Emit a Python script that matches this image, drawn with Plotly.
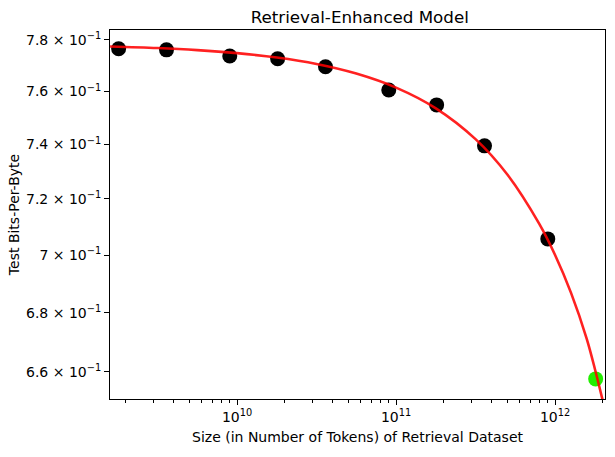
import plotly.graph_objects as go

# Data
tokens = [1.8e9, 3.6e9, 9.0e9, 1.8e10, 3.6e10, 9.0e10, 1.8e11, 3.6e11, 9.0e11]
bpb = [0.7765, 0.7761, 0.7737, 0.7726, 0.7695, 0.7606, 0.7549, 0.7395, 0.7057]
green_tokens = [1.8e12]
green_bpb = [0.6577]

# Fitted curve
fit_tokens = [1.59e9, 3.16e9, 5.62e9, 1e10, 1.78e10, 3.16e10, 5.62e10, 1e11,
              1.78e11, 3.16e11, 5.01e11, 7.94e11, 1e12, 1.26e12, 1.58e12, 1.8e12, 2.06e12]
fit_bpb = [0.7774, 0.7768, 0.7760, 0.7748, 0.7731, 0.7706, 0.7669, 0.7615,
           0.7536, 0.7420, 0.7289, 0.7111, 0.7000, 0.6868, 0.6712, 0.6600, 0.6475]

y_ticks = [0.66, 0.68, 0.70, 0.72, 0.74, 0.76, 0.78]
y_ticktext = ["6.6 × 10<sup>−1</sup>", "6.8 × 10<sup>−1</sup>", "7 × 10<sup>−1</sup>",
              "7.2 × 10<sup>−1</sup>", "7.4 × 10<sup>−1</sup>", "7.6 × 10<sup>−1</sup>",
              "7.8 × 10<sup>−1</sup>"]
x_ticks = [1e10, 1e11, 1e12]
x_ticktext = ["10<sup>10</sup>", "10<sup>11</sup>", "10<sup>12</sup>"]
x_minor = [m * 10 ** e for e in (9, 10, 11, 12) for m in range(2, 10)]

fig = go.Figure()
fig.add_trace(go.Scatter(x=tokens, y=bpb, mode="markers",
                         marker=dict(color="black", size=15), showlegend=False))
fig.add_trace(go.Scatter(x=green_tokens, y=green_bpb, mode="markers",
                         marker=dict(color="#22ee00", size=15), showlegend=False))
fig.add_trace(go.Scatter(x=fit_tokens, y=fit_bpb, mode="lines", line_shape="spline",
                         line=dict(color="rgba(255,0,0,0.87)", width=2.6), showlegend=False))

axis_common = dict(showline=True, linecolor="black", linewidth=1, mirror=True,
                   showgrid=False, zeroline=False, ticks="outside", ticklen=5,
                   tickcolor="black", tickfont=dict(size=14, color="black"))

fig.update_layout(
    width=615, height=457,
    margin=dict(l=110, r=10, t=30, b=58),
    paper_bgcolor="white", plot_bgcolor="white",
    font=dict(family="DejaVu Sans", color="black"),
    title=dict(text="Retrieval-Enhanced Model", x=0.585, xanchor="center",
               y=0.962, yanchor="middle", font=dict(size=16.7)),
    xaxis=dict(type="log", range=[9.201, 12.314], tickmode="array",
               tickvals=x_ticks, ticktext=x_ticktext,
               minor=dict(tickmode="array", tickvals=x_minor, ticks="outside",
                          ticklen=3, tickcolor="black"),
               title=dict(text="Size (in Number of Tokens) of Retrieval Dataset",
                          font=dict(size=14), standoff=8),
               **axis_common),
    yaxis=dict(type="log", range=[-0.18636, -0.10575], tickmode="array",
               tickvals=y_ticks, ticktext=y_ticktext,
               title=dict(text="Test Bits-Per-Byte", font=dict(size=14), standoff=3),
               **axis_common),
)

fig.write_html("out.html", config={"displayModeBar": False},
               post_script="document.body.style.margin='0';")
